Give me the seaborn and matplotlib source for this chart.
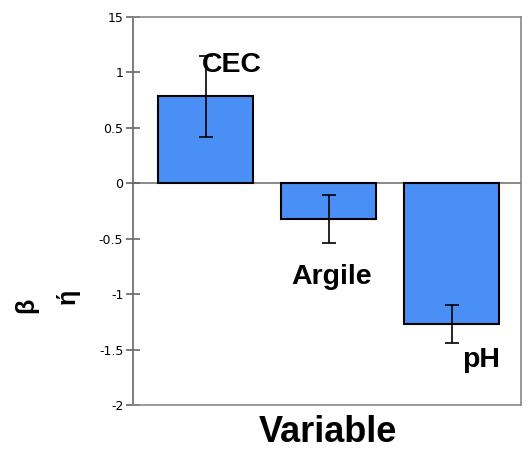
import matplotlib
matplotlib.use("Agg")
import matplotlib.pyplot as plt
import seaborn as sns
import pandas as pd

categories = ["CEC", "Argile", "pH"]
values = [0.785, -0.325, -1.27]
errors = [0.365, 0.215, 0.17]
label_y = [1.0, -0.911, -1.659]
label_dx = [0.211, 0.024, 0.24]
yticks = [-2, -1.5, -1, -0.5, 0, 0.5, 1, 1.5]
ytick_labels = ["-2", "-1.5", "-1", "-0.5", "0", "0.5", "1", "15"]

sns.set_style("white")
plt.rcParams["font.family"] = ["Liberation Sans", "DejaVu Sans"]
plt.rcParams["text.color"] = "black"

df = pd.DataFrame({"var": categories, "val": values})
fig = plt.figure(figsize=(5.29, 4.55), dpi=100)
ax = fig.add_axes([133/529, 1-405/455, 388/529, 388/455])
sns.barplot(data=df, x="var", y="val", color="#4a8ff5", saturation=1,
            edgecolor="black", linewidth=1.5, width=0.77, ax=ax)
ax.errorbar(range(len(values)), values, yerr=errors, fmt="none",
            ecolor="black", elinewidth=1.2, capsize=5, capthick=1.2, zorder=5)
for i, (c, p) in enumerate(zip(categories, label_y)):
    ax.text(i + label_dx[i], p, c, fontsize=20.5, fontweight="bold",
            ha="center", va="baseline", color="black", zorder=6)
ax.axhline(0, color="#777777", lw=1.2, zorder=0)
ax.set_ylim(-2, 1.5)
ax.set_xlim(-0.59, 2.565)
ax.set_yticks(yticks)
ax.set_yticklabels(ytick_labels, fontsize=9, family="DejaVu Sans", color="black")
ax.set_xticks([])
ax.tick_params(axis="y", direction="inout", length=10, color="#666666", width=1.2, left=True, pad=2)
for s in ax.spines.values():
    s.set_color("#888888")
    s.set_linewidth(1.2)
ax.spines["left"].set_color("#666666")
ax.set_xlabel("")
ax.set_ylabel("")
fig.text(327.5/529, 1-442/455, "Variable", fontsize=26, fontweight="bold",
         ha="center", va="baseline", color="black")
fig.text(26/529, 1-305/455, "β", rotation=90, fontsize=18, fontweight="bold",
         ha="center", va="center", color="black")
fig.text(68/529, 1-296/455, "ή", rotation=90, fontsize=18, fontweight="bold",
         ha="center", va="center", color="black")
fig.savefig("out.png", dpi=100)
